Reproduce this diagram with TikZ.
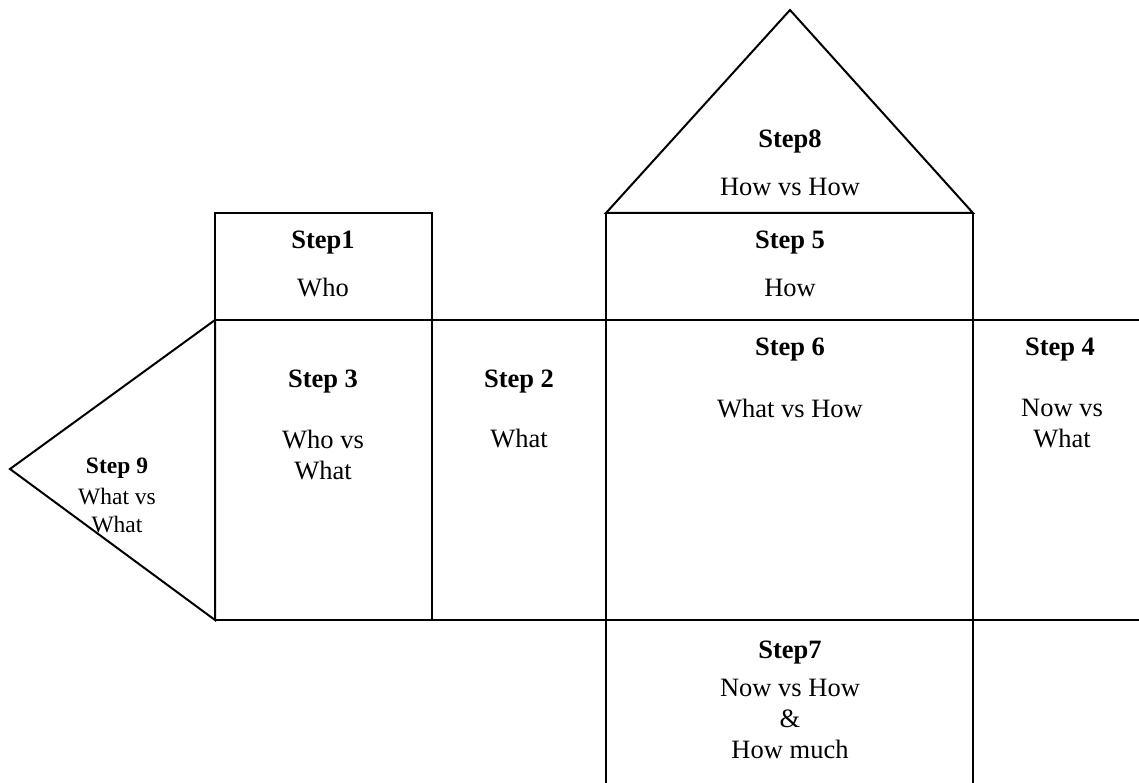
\documentclass[tikz,border=0pt]{standalone}
\usepackage{fontspec}
\setmainfont{Liberation Serif}
\newcommand{\bigtxt}{\fontsize{26.5}{31}\selectfont}
\newcommand{\smalltxt}{\fontsize{23.5}{28}\selectfont}

\begin{document}
\begin{tikzpicture}[x=1pt,y=-1pt,line width=2pt,
    lbl/.style={inner sep=0pt,align=center,font=\bigtxt},
    head/.style={inner sep=0pt,align=center,font=\bigtxt\bfseries},
    slbl/.style={inner sep=0pt,align=center,font=\smalltxt},
    shead/.style={inner sep=0pt,align=center,font=\smalltxt\bfseries}]
    \useasboundingbox (0,0) rectangle (1139,783);

    \coordinate (TipL) at (10,469);
    \coordinate (Roof) at (790,10);
    \coordinate (A1) at (215,213);
    \coordinate (B1) at (432,213);
    \coordinate (C1) at (606,213);
    \coordinate (D1) at (973,213);
    \coordinate (A2) at (215,320);
    \coordinate (E2) at (1139,320);
    \coordinate (A3) at (215,620);
    \coordinate (B3) at (432,620);
    \coordinate (E3) at (1139,620);
    \coordinate (C4) at (606,783);
    \coordinate (D4) at (973,783);

    \draw (A2)--(A1)--(B1)--(B3);
    \draw (A2)--(E2);
    \draw (A3)--(E3);
    \draw (TipL)--(A2)--(A3)--cycle;
    \draw (C1)--(Roof)--(D1)--cycle;
    \draw (C1)--(C4);
    \draw (D1)--(D4);

    \node[head] (S8) at (790,142) {Step8};
    \node[lbl] (T8) at (790,187) {How vs How};
    \node[head] (S1) at (323,243) {Step1};
    \node[lbl] (T1) at (323,288) {Who};
    \node[head] (S5) at (790,243) {Step 5};
    \node[lbl] (T5) at (790,288) {How};
    \node[head] (S3) at (323,382) {Step 3};
    \node[lbl] (T3) at (323,455) {Who vs\\What};
    \node[head] (S2) at (519,382) {Step 2};
    \node[lbl] (T2) at (519,439) {What};
    \node[head] (S6) at (790,350) {Step 6};
    \node[lbl] (T6) at (790,409) {What vs How};
    \node[head] (S4) at (1060,350) {Step 4};
    \node[lbl] (T4) at (1062,424) {Now vs\\What};
    \node[shead] (S9) at (117,468) {Step 9};
    \node[slbl] (T9) at (117,511) {What vs\\What};
    \node[head] (S7) at (790,653) {Step7};
    \node[lbl] (T7) at (790,719) {Now vs How\\\&\\How much};
\end{tikzpicture}
\end{document}
